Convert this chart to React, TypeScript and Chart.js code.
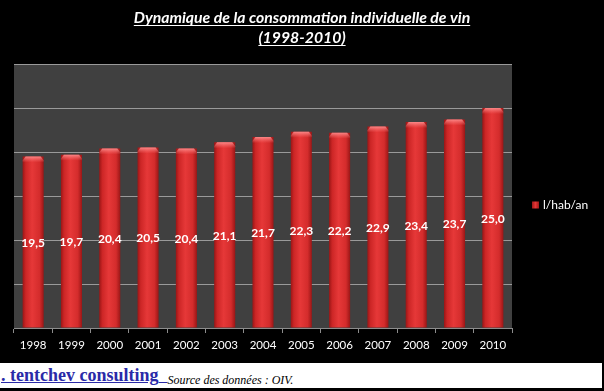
import React, { useEffect, useRef } from "react";
import { Chart, registerables } from "chart.js";

Chart.register(...registerables);

const YEARS = ["1998", "1999", "2000", "2001", "2002", "2003", "2004", "2005", "2006", "2007", "2008", "2009", "2010"];
const CONSUMPTION = [19.5, 19.7, 20.4, 20.5, 20.4, 21.1, 21.7, 22.3, 22.2, 22.9, 23.4, 23.7, 25.0];
const SERIES_LABEL = "l/hab/an";
const TITLE_LINES = ["Dynamique de la consommation individuelle de vin", "(1998-2010)"];
const Y_MIN = 0;
const Y_MAX = 30;
const Y_STEP = 5;
const FOOTER_BRAND = ". tentchev consulting";
const FOOTER_SOURCE = "Source des données : OIV.";

const BAR_PCT = 0.55;
const FONT = "Lato, 'DejaVu Sans', sans-serif";

const fmt = (v: number) => v.toFixed(1).replace(".", ",");

const bgPlugin = {
  id: "bgPlugin",
  beforeDraw(chart: any) {
    const { ctx, chartArea: a } = chart;
    ctx.save();
    ctx.fillStyle = "#000";
    ctx.fillRect(0, 0, chart.width, chart.height);
    ctx.fillStyle = "#404040";
    ctx.fillRect(a.left, a.top, a.right - a.left, a.bottom - a.top);
    ctx.restore();
  },
};

const titlePlugin = {
  id: "titlePlugin",
  afterDraw(chart: any) {
    const ctx = chart.ctx;
    ctx.save();
    ctx.fillStyle = "#fff";
    ctx.strokeStyle = "#fff";
    ctx.font = `italic bold 15.8px ${FONT}`;
    ctx.textAlign = "center";
    ctx.textBaseline = "alphabetic";
    const cx = chart.width / 2;
    const baselines = [23, 43];
    TITLE_LINES.forEach((line, i) => {
      const y = baselines[i];
      ctx.fillText(line, cx, y);
      const w = ctx.measureText(line).width;
      ctx.lineWidth = 1;
      ctx.beginPath();
      ctx.moveTo(cx - w / 2, y + 2.5);
      ctx.lineTo(cx + w / 2, y + 2.5);
      ctx.stroke();
    });
    ctx.restore();
  },
};

const legendPlugin = {
  id: "legendPlugin",
  afterDraw(chart: any) {
    const { ctx, chartArea: a } = chart;
    const ds = chart.data.datasets[0];
    const yMid = (a.top + a.bottom) / 2 + 9;
    const x0 = a.right + 20;
    ctx.save();
    const g = ctx.createLinearGradient(x0, 0, x0 + 7, 0);
    g.addColorStop(0, "#a01818");
    g.addColorStop(0.5, "#e43636");
    g.addColorStop(1, "#a01818");
    ctx.fillStyle = g;
    ctx.fillRect(x0, yMid - 3.5, 7, 7);
    ctx.fillStyle = "#fff";
    ctx.font = `12px ${FONT}`;
    ctx.textAlign = "left";
    ctx.textBaseline = "middle";
    ctx.fillText(ds.label, x0 + 11, yMid);
    ctx.restore();
  },
};

const labelPlugin = {
  id: "labelPlugin",
  afterDatasetsDraw(chart: any) {
    const { ctx } = chart;
    const meta = chart.getDatasetMeta(0);
    const data = chart.data.datasets[0].data as number[];
    ctx.save();
    meta.data.forEach((el: any, i: number) => {
      const { x, y, base, width } = el.getProps(["x", "y", "base", "width"], true);
      const hg = ctx.createLinearGradient(0, y, 0, y + 6);
      hg.addColorStop(0, "rgba(255,150,150,0.85)");
      hg.addColorStop(1, "rgba(255,120,120,0)");
      ctx.fillStyle = hg;
      ctx.beginPath();
      ctx.moveTo(x - width / 2, y + 4);
      ctx.lineTo(x - width / 2 + 3, y);
      ctx.lineTo(x + width / 2 - 3, y);
      ctx.lineTo(x + width / 2, y + 4);
      ctx.lineTo(x + width / 2, y + 6);
      ctx.lineTo(x - width / 2, y + 6);
      ctx.closePath();
      ctx.fill();
      ctx.fillStyle = "#fff";
      ctx.font = `bold 12px ${FONT}`;
      ctx.textAlign = "center";
      ctx.textBaseline = "middle";
      ctx.fillText(fmt(data[i]), x, (y + base) / 2 + 1);
    });
    ctx.restore();
  },
};

export default function App() {
  const ref = useRef<HTMLCanvasElement | null>(null);

  useEffect(() => {
    if (!ref.current) return;
    const chart = new Chart(ref.current, {
      type: "bar",
      data: {
        labels: YEARS,
        datasets: [
          {
            label: SERIES_LABEL,
            data: CONSUMPTION,
            barPercentage: BAR_PCT,
            categoryPercentage: 1,
            borderWidth: 0,
            backgroundColor: (c: any) => {
              const chart = c.chart;
              const a = chart.chartArea;
              if (!a || !chart.scales.x) return "#d42c2c";
              const cx = chart.scales.x.getPixelForValue(c.dataIndex);
              const w = ((a.right - a.left) / YEARS.length) * BAR_PCT;
              const g = chart.ctx.createLinearGradient(cx - w / 2, 0, cx + w / 2, 0);
              g.addColorStop(0, "#9a1616");
              g.addColorStop(0.15, "#cc2626");
              g.addColorStop(0.45, "#e63838");
              g.addColorStop(0.8, "#d42c2c");
              g.addColorStop(1, "#9a1616");
              return g;
            },
          },
        ],
      },
      options: {
        animation: false,
        responsive: false,
        maintainAspectRatio: false,
        layout: { padding: { left: 14, right: 92, top: 64, bottom: 0 } },
        plugins: {
          legend: { display: false },
          title: { display: false },
          tooltip: { enabled: false },
        },
        scales: {
          x: {
            afterFit: (s: any) => {
              s.height = 63;
            },
            grid: {
              display: true,
              drawOnChartArea: false,
              drawTicks: true,
              tickLength: 5,
              offset: true,
              color: "#8c8c8c",
            },
            border: { display: true, color: "#8c8c8c" },
            ticks: {
              color: "#fff",
              font: { family: FONT, size: 11.5 },
              padding: 5,
              maxRotation: 0,
              autoSkip: false,
            },
          },
          y: {
            min: Y_MIN,
            max: Y_MAX,
            afterFit: (s: any) => {
              s.width = 0;
            },
            ticks: { display: false, stepSize: Y_STEP },
            grid: { color: "#9a9a9a", drawTicks: false },
            border: { display: false },
          },
        },
      },
      plugins: [bgPlugin, labelPlugin, legendPlugin, titlePlugin],
    });
    return () => chart.destroy();
  }, []);

  return (
    <div style={{ position: "absolute", left: 0, top: 0, width: 604, height: 391, background: "#000", overflow: "hidden" }}>
      <canvas ref={ref} width={604} height={391} style={{ display: "block", width: 604, height: 391 }} />
      <div
        style={{
          position: "absolute",
          left: 0,
          top: 363,
          width: 602,
          height: 25,
          background: "#fff",
          whiteSpace: "nowrap",
          fontFamily: "'Liberation Serif', serif",
          lineHeight: "25px",
        }}
      >
        <span style={{ color: "#2a2aa8", fontWeight: "bold", fontSize: 18, textDecoration: "underline", marginLeft: 1 }}>
          {FOOTER_BRAND}
          {"\u00a0\u00a0"}
        </span>
        <span style={{ fontStyle: "italic", fontSize: 12, color: "#000", position: "relative", top: 3 }}>{FOOTER_SOURCE}</span>
      </div>
    </div>
  );
}
